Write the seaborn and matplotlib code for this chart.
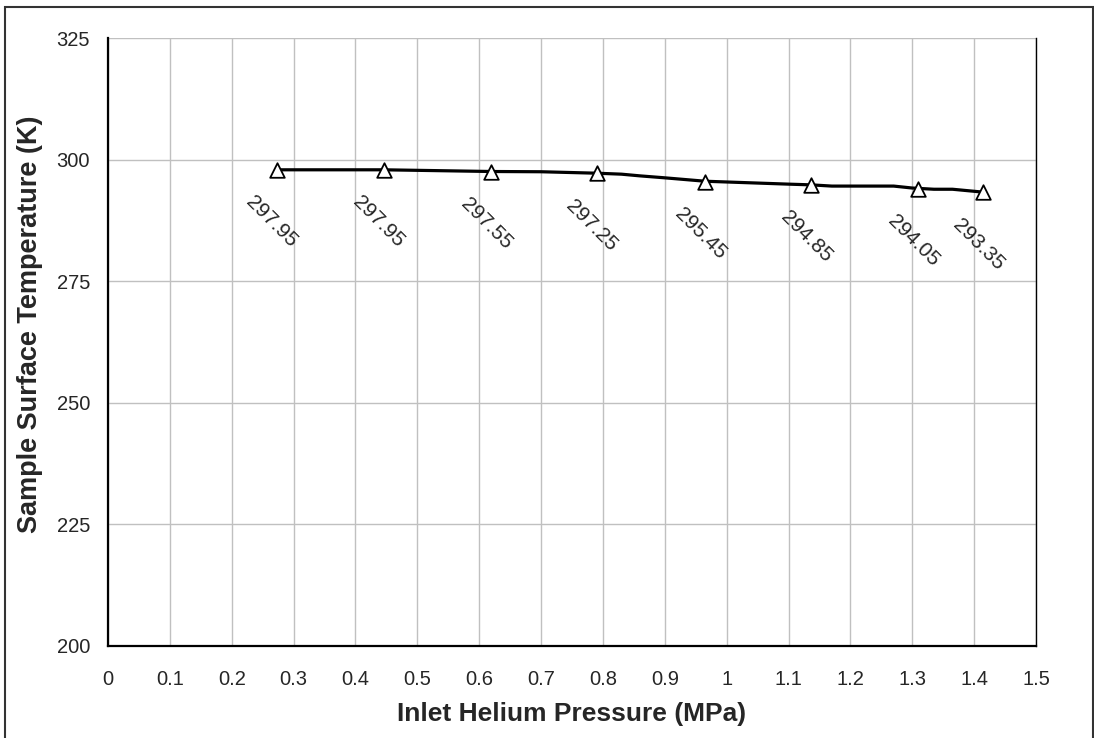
import matplotlib

matplotlib.use("Agg")
import matplotlib.pyplot as plt
import numpy as np
import pandas as pd
import seaborn as sns
from matplotlib.patches import Rectangle
from matplotlib.ticker import MultipleLocator

# measured points (markers + labels)
pressure = [0.273, 0.446, 0.619, 0.790, 0.965, 1.137, 1.310, 1.415]
temperature = [297.95, 297.95, 297.55, 297.25, 295.45, 294.85, 294.05, 293.35]

# continuous trace
trace_pressure = [0.273, 0.446, 0.62, 0.70, 0.79, 0.83, 0.86, 0.90, 0.965,
                  1.10, 1.137, 1.17, 1.27, 1.30, 1.335, 1.365, 1.415]
trace_temperature = [297.95, 297.95, 297.6, 297.55, 297.25, 297.05, 296.7, 296.3, 295.6,
                     295.0, 294.85, 294.6, 294.6, 294.2, 293.95, 293.95, 293.35]

x_ticks = np.round(np.arange(0, 1.51, 0.1), 1)

sns.set_style("white")
plt.rcParams["font.family"] = ["Liberation Sans", "DejaVu Sans"]

points = pd.DataFrame({"p": pressure, "t": temperature})
trace = pd.DataFrame({"p": trace_pressure, "t": trace_temperature})

fig = plt.figure(figsize=(10.94, 7.38), dpi=100)
ax = fig.add_axes([0.0987, 0.1247, 0.8483, 0.8234])

sns.lineplot(data=trace, x="p", y="t", ax=ax, color="black", linewidth=2.3,
             sort=False, zorder=3)
sns.scatterplot(data=points, x="p", y="t", ax=ax, marker="^", s=110,
                facecolor="white", edgecolor="black", linewidth=1.3, zorder=4)

for p, t in zip(pressure, temperature):
    ax.annotate(f"{t:.2f}", xy=(p, t), xytext=(-3.6, -37.5),
                textcoords="offset points", rotation=-45,
                rotation_mode="anchor", ha="center", va="center", fontsize=15)

ax.set_xlim(0, 1.5)
ax.set_ylim(200, 325)
ax.set_xticks(x_ticks)
ax.set_xticklabels([("%g" % v) for v in x_ticks])
ax.yaxis.set_major_locator(MultipleLocator(25))
ax.xaxis.set_minor_locator(MultipleLocator(0.05))
ax.yaxis.set_minor_locator(MultipleLocator(5))

ax.grid(True, which="major", color="#c0c0c0", linewidth=1.0)
ax.set_axisbelow(True)

ax.tick_params(axis="both", which="major", direction="inout", length=10,
               width=1.2, labelsize=14.5, color="black")
ax.tick_params(axis="y", which="major", pad=8)
ax.tick_params(axis="x", which="major", pad=12)
ax.tick_params(axis="both", which="minor", direction="out", length=5,
               width=1.0, color="black")

for side in ["left", "bottom"]:
    ax.spines[side].set_color("black")
    ax.spines[side].set_linewidth(1.6)
ax.spines["right"].set_color("black")
ax.spines["right"].set_linewidth(1.0)
ax.spines["top"].set_visible(False)

ax.set_xlabel("Inlet Helium Pressure (MPa)", fontsize=19, fontweight="bold",
              labelpad=10)
ax.set_ylabel("Sample Surface Temperature (K)", fontsize=19.5, fontweight="bold",
              labelpad=10)
ax.yaxis.label.set_y(0.53)

fig.patches.append(Rectangle((5 / 1094, -0.02), 1088 / 1094, 1.02 - 7 / 738,
                             transform=fig.transFigure, fill=False,
                             edgecolor="#333333", linewidth=1.5))

fig.savefig("out.png", dpi=100)
